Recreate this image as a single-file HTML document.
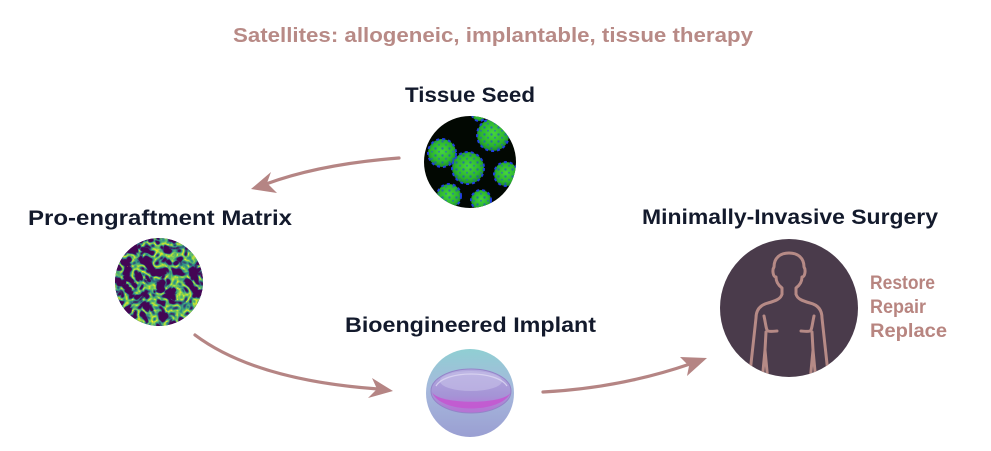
<!DOCTYPE html>
<html><head><meta charset="utf-8"><style>
html,body{margin:0;padding:0;background:#fff;}
svg{display:block;}
text{font-family:"Liberation Sans",sans-serif;font-weight:bold;}
</style></head><body>
<svg width="991" height="451" viewBox="0 0 991 451" xmlns="http://www.w3.org/2000/svg">
<defs>
  <clipPath id="cSeed"><circle cx="470" cy="162" r="46"/></clipPath>
  <clipPath id="cMat"><circle cx="159" cy="282" r="44"/></clipPath>
  <clipPath id="cBody"><circle cx="789" cy="308" r="69"/></clipPath>
  <clipPath id="cImp"><circle cx="470" cy="393" r="44"/></clipPath>
  <radialGradient id="gGreen" cx="50%" cy="45%" r="55%">
    <stop offset="0" stop-color="#45d63c"/>
    <stop offset="0.7" stop-color="#2bb52e"/>
    <stop offset="1" stop-color="#1d8a28"/>
  </radialGradient>
  <pattern id="pBlue" width="7" height="7" patternUnits="userSpaceOnUse">
    <circle cx="1.5" cy="1.5" r="1.2" fill="#1d3bea"/>
    <circle cx="5" cy="4.8" r="1.0" fill="#2448f0"/>
  </pattern>
  <filter id="fVir" x="0" y="0" width="100%" height="100%" color-interpolation-filters="sRGB">
    <feTurbulence type="turbulence" baseFrequency="0.09" numOctaves="2" seed="7"/>
    <feColorMatrix type="matrix" values="1 0 0 0 0  1 0 0 0 0  1 0 0 0 0  0 0 0 0 1"/>
    <feComponentTransfer>
      <feFuncR type="table" tableValues="0.98 0.45 0.17 0.27 0.27 0.27 0.27 0.27 0.27 0.27 0.27"/>
      <feFuncG type="table" tableValues="0.92 0.8 0.55 0.03 0.02 0.02 0.02 0.02 0.02 0.02 0.02"/>
      <feFuncB type="table" tableValues="0.12 0.35 0.55 0.34 0.33 0.33 0.33 0.33 0.33 0.33 0.33"/>
    </feComponentTransfer>
  </filter>
  <linearGradient id="gImp" x1="0" y1="0" x2="0" y2="1">
    <stop offset="0" stop-color="#8ed0d2"/>
    <stop offset="0.45" stop-color="#a6b9dc"/>
    <stop offset="1" stop-color="#9a9ed2"/>
  </linearGradient>
  <linearGradient id="gLens" x1="0" y1="0" x2="0" y2="1">
    <stop offset="0" stop-color="#b3aadf"/>
    <stop offset="0.6" stop-color="#a594d6"/>
    <stop offset="1" stop-color="#b870d4"/>
  </linearGradient>
</defs>

<!-- Title -->
<text x="233" y="42" font-size="20" fill="#b88a86" textLength="520" lengthAdjust="spacingAndGlyphs">Satellites: allogeneic, implantable, tissue therapy</text>

<!-- Labels -->
<text x="405" y="102" font-size="21" fill="#131a2c" textLength="130" lengthAdjust="spacingAndGlyphs">Tissue Seed</text>
<text x="28" y="225" font-size="21" fill="#131a2c" textLength="264" lengthAdjust="spacingAndGlyphs">Pro-engraftment Matrix</text>
<text x="642" y="224" font-size="21" fill="#131a2c" textLength="296" lengthAdjust="spacingAndGlyphs">Minimally-Invasive Surgery</text>
<text x="345" y="332" font-size="21" fill="#131a2c" textLength="251" lengthAdjust="spacingAndGlyphs">Bioengineered Implant</text>

<text x="870" y="289" font-size="19" fill="#b88580" textLength="65" lengthAdjust="spacingAndGlyphs">Restore</text>
<text x="870" y="313" font-size="19" fill="#b88580" textLength="56" lengthAdjust="spacingAndGlyphs">Repair</text>
<text x="870" y="337" font-size="19" fill="#b88580" textLength="77" lengthAdjust="spacingAndGlyphs">Replace</text>

<!-- Tissue seed image -->
<g clip-path="url(#cSeed)">
  <rect x="420" y="112" width="100" height="100" fill="#020802"/>
  <g fill="url(#gGreen)" stroke="#2040e0" stroke-width="2" stroke-dasharray="3 3">
    <circle cx="493" cy="135" r="16"/>
    <circle cx="442" cy="153" r="14"/>
    <circle cx="468" cy="168" r="16"/>
    <circle cx="506" cy="174" r="12"/>
    <circle cx="449" cy="196" r="12"/>
    <circle cx="481" cy="200" r="10"/>
    <circle cx="479" cy="114" r="7"/>
  </g>
  <g fill="url(#pBlue)" opacity="0.55">
    <circle cx="493" cy="135" r="15"/>
    <circle cx="442" cy="153" r="13"/>
    <circle cx="468" cy="168" r="15"/>
    <circle cx="506" cy="174" r="11"/>
    <circle cx="449" cy="196" r="11"/>
    <circle cx="481" cy="200" r="9"/>
  </g>
</g>

<!-- Matrix image -->
<g clip-path="url(#cMat)">
  <rect x="113" y="236" width="92" height="92" fill="#440154"/>
  <rect x="113" y="236" width="92" height="92" filter="url(#fVir)"/>
</g>

<!-- Implant image -->
<g clip-path="url(#cImp)">
  <rect x="424" y="347" width="92" height="92" fill="url(#gImp)"/>
  <ellipse cx="471" cy="391" rx="40" ry="22" fill="url(#gLens)" stroke="#9484c8" stroke-width="1"/>
  <path d="M432,392 C440,414 502,414 511,392 C505,405 438,405 432,392 Z" fill="#c458d0" opacity="0.9"/>
  <ellipse cx="471" cy="381" rx="31" ry="10" fill="#c9c3ea" opacity="0.55"/>
  <path d="M436,386 C445,370 497,370 507,386" fill="none" stroke="#ddd8f2" stroke-width="1.3" opacity="0.8"/>
</g>

<!-- Body -->
<circle cx="789" cy="308" r="69" fill="#4a3b4b"/>
<g clip-path="url(#cBody)" fill="none" stroke="#b68a86" stroke-width="3" stroke-linecap="round" stroke-linejoin="round">
  <path d="M782,294 L782,288 C778,285 776,281 776,277 C773,277 772,270 774,267 C774,258 780,253 789,253 C798,253 804,258 804,267 C806,270 805,277 802,277 C802,281 800,285 796,288 L796,294"/>
  <path d="M782,294 C781,299 775,301 768,303 C760,305 756,310 756,318 L749,382"/>
  <path d="M796,294 C797,299 803,301 810,303 C818,305 822,310 822,318 L829,382"/>
  <path d="M764,316 C766,325 766,330 768,331 C771,332 775,331 777,331"/>
  <path d="M766,332 L765,350 L762,382 M765,350 L768,382"/>
  <path d="M814,316 C812,325 812,330 810,331 C807,332 803,331 801,331"/>
  <path d="M812,332 L813,350 L816,382 M813,350 L810,382"/>
</g>

<!-- Arrows -->
<g fill="none" stroke="#b58584" stroke-width="3.2" stroke-linecap="round">
  <path d="M399,158 Q320,164 266,184"/>
  <path d="M195,335 Q255,380 378,389"/>
  <path d="M543,392 Q620,388 690,364"/>
</g>
<g fill="#b58584">
  <polygon points="251,189 271,172 267,183 277,193"/>
  <polygon points="393,391 372,378 377,389 368,398"/>
  <polygon points="707,358 680,357 689,366 687,376"/>
</g>
</svg>
</body></html>
